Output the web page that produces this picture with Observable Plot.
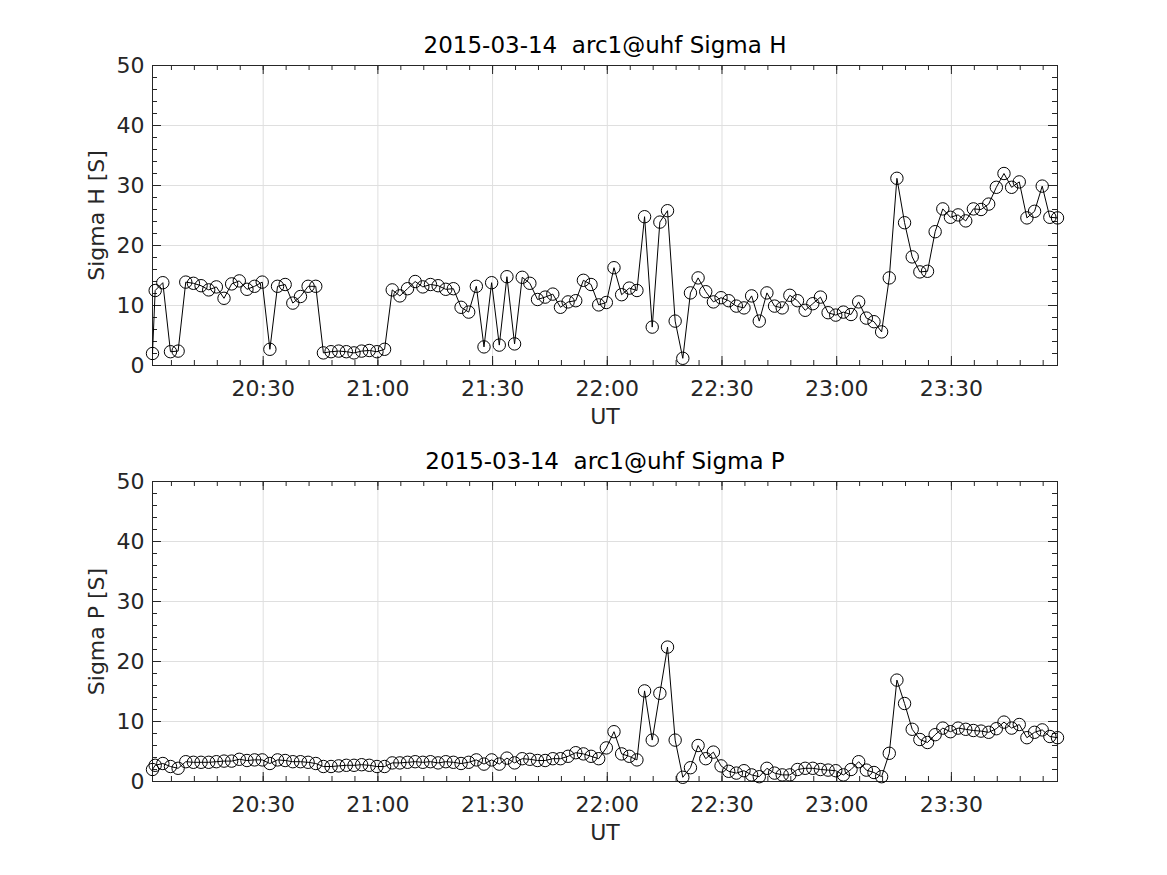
<!DOCTYPE html>
<html>
<head>
<meta charset="utf-8">
<script src="https://cdn.jsdelivr.net/npm/d3@7"></script>
<script src="https://cdn.jsdelivr.net/npm/@observablehq/plot@0.6"></script>
<style>
  html, body { margin: 0; padding: 0; background: white; }
  #wrap { position: relative; width: 1167px; height: 875px; overflow: hidden; background: white; }
  #wrap svg { position: absolute; left: 0; }
</style>
</head>
<body>
<div id="wrap"></div>
<script>
// ---- data ----
const dateStr = "2015-03-14";
const firstTime = "20:01:03";          // first (partial) record
const regularStart = "20:01:45";       // then one record every 2 minutes
const stepMinutes = 2;

const sigmaH = [
  2.0, 12.5, 13.8, 2.3, 2.4, 13.9, 13.7, 13.3, 12.6, 13.1,
  11.2, 13.6, 14.1, 12.7, 13.2, 13.9, 2.7, 13.2, 13.5, 10.4,
  11.5, 13.2, 13.2, 2.1, 2.3, 2.4, 2.3, 2.1, 2.4, 2.5,
  2.3, 2.7, 12.6, 11.6, 12.8, 14.0, 13.1, 13.5, 13.3, 12.7,
  12.8, 9.7, 8.9, 13.2, 3.1, 13.8, 3.4, 14.8, 3.6, 14.7,
  13.7, 11.0, 11.4, 11.9, 9.7, 10.6, 10.8, 14.2, 13.5, 10.1,
  10.5, 16.3, 11.8, 12.9, 12.5, 24.8, 6.4, 23.9, 25.8, 7.4,
  1.2, 12.1, 14.6, 12.3, 10.6, 11.3, 10.8, 9.9, 9.6, 11.6,
  7.4, 12.1, 9.9, 9.6, 11.7, 10.8, 9.2, 10.3, 11.4, 8.8,
  8.4, 8.9, 8.5, 10.6, 7.9, 7.3, 5.6, 14.6, 31.2, 23.8,
  18.1, 15.6, 15.7, 22.3, 26.1, 24.7, 25.1, 24.1, 26.1, 26.0,
  26.9, 29.7, 32.0, 29.7, 30.6, 24.6, 25.7, 29.9, 24.7, 24.6
];

const sigmaP = [
  2.0, 2.7, 3.0, 2.5, 2.2, 3.3, 3.2, 3.2, 3.2, 3.3,
  3.4, 3.4, 3.7, 3.5, 3.6, 3.6, 3.0, 3.6, 3.5, 3.3,
  3.3, 3.2, 3.0, 2.5, 2.5, 2.6, 2.7, 2.7, 2.8, 2.7,
  2.5, 2.5, 3.1, 3.1, 3.2, 3.3, 3.2, 3.3, 3.1, 3.3,
  3.2, 3.0, 3.2, 3.6, 2.9, 3.6, 2.9, 3.9, 3.1, 3.8,
  3.7, 3.5, 3.5, 3.8, 3.8, 4.2, 4.8, 4.6, 4.2, 3.8,
  5.6, 8.3, 4.6, 4.2, 3.6, 15.1, 6.9, 14.7, 22.4, 6.9,
  0.7, 2.3, 6.0, 3.8, 4.9, 2.6, 1.7, 1.4, 1.8, 1.1,
  0.8, 2.2, 1.4, 1.1, 1.1, 2.0, 2.2, 2.2, 2.0, 1.9,
  1.8, 1.1, 2.0, 3.3, 1.9, 1.5, 0.8, 4.7, 16.9, 13.0,
  8.7, 7.0, 6.5, 7.8, 8.9, 8.3, 8.9, 8.7, 8.5, 8.4,
  8.2, 8.8, 9.9, 8.9, 9.5, 7.3, 8.2, 8.6, 7.5, 7.3
];

const xTickLabels = ["20:30", "21:00", "21:30", "22:00", "22:30", "23:00", "23:30"];
const yTicks = [0, 10, 20, 30, 40, 50];
const yMinorTicks = [2, 4, 6, 8, 12, 14, 16, 18, 22, 24, 26, 28, 32, 34, 36, 38, 42, 44, 46, 48];

const panels = [
  { title: "2015-03-14  arc1@uhf Sigma H", ylabel: "Sigma H [S]", values: sigmaH },
  { title: "2015-03-14  arc1@uhf Sigma P", ylabel: "Sigma P [S]", values: sigmaP }
];

// ---- build ----
const parseT = s => new Date(`${dateStr}T${s}Z`);
const t0 = parseT(regularStart);
const times = [parseT(firstTime)].concat(
  sigmaH.slice(1).map((_, k) => new Date(+t0 + k * stepMinutes * 60000))
);
const majorTimes = xTickLabels.map(s => parseT(s + ":00"));
const domainX = [times[0], times[times.length - 1]];
const minorTimes = d3.utcMinute.every(6).range(domainX[0], domainX[1]);

const W = 1167, left = 152, right = 110, frameH = 300, frameW = W - left - right;
const axisColor = "#262626";
const gridColor = "#dfdfdf";
const font = "DejaVu Sans, Liberation Sans, sans-serif";

function panel(p, svgHeight, marginBottom, transparent) {
  const data = times.map((t, i) => ({ t, v: p.values[i] }));
  return Plot.plot({
    width: W,
    height: svgHeight,
    marginLeft: left,
    marginRight: right,
    marginTop: 65,
    marginBottom,
    style: { fontFamily: font, fontSize: "22px", color: axisColor, background: transparent ? "transparent" : "white", overflow: "visible" },
    x: { type: "utc", domain: domainX },
    y: { domain: [0, 50] },
    marks: [
      Plot.gridX(majorTimes, { stroke: gridColor, strokeOpacity: 1, strokeWidth: 1 }),
      Plot.gridY(yTicks, { stroke: gridColor, strokeOpacity: 1, strokeWidth: 1 }),
      // inward ticks: bottom & top (major / minor)
      Plot.tickX(majorTimes, { x: d => d, insetTop: frameH - 9, stroke: axisColor }),
      Plot.tickX(majorTimes, { x: d => d, insetBottom: frameH - 9, stroke: axisColor }),
      Plot.tickX(minorTimes, { x: d => d, insetTop: frameH - 5, stroke: axisColor }),
      Plot.tickX(minorTimes, { x: d => d, insetBottom: frameH - 5, stroke: axisColor }),
      // inward ticks: left & right
      Plot.tickY(yTicks, { y: d => d, insetRight: frameW - 9, stroke: axisColor }),
      Plot.tickY(yTicks, { y: d => d, insetLeft: frameW - 9, stroke: axisColor }),
      Plot.tickY(yMinorTicks, { y: d => d, insetRight: frameW - 5, stroke: axisColor }),
      Plot.tickY(yMinorTicks, { y: d => d, insetLeft: frameW - 5, stroke: axisColor }),
      Plot.frame({ stroke: axisColor, strokeWidth: 1 }),
      Plot.line(data, { x: "t", y: "v", stroke: "black", strokeWidth: 1 }),
      Plot.dot(data, { x: "t", y: "v", r: 6.2, stroke: "black", fill: "none", strokeWidth: 1 }),
      Plot.axisX({ ticks: majorTimes, tickFormat: d3.utcFormat("%H:%M"), tickSize: 0, tickPadding: 15, label: null, fill: axisColor }),
      Plot.axisY({ ticks: yTicks, tickSize: 0, tickPadding: 8, label: null, fill: axisColor }),
      Plot.text([p.title], { frameAnchor: "top", dy: -20, lineAnchor: "middle", fill: "black", fontSize: 23 }),
      Plot.text(["UT"], { frameAnchor: "bottom", dy: 51, lineAnchor: "middle", fill: axisColor, fontSize: 22 }),
      Plot.text([p.ylabel], { frameAnchor: "left", dx: -56, rotate: -90, lineAnchor: "middle", textAnchor: "middle", fill: axisColor, fontSize: 22 })
    ]
  });
}

const wrap = document.getElementById("wrap");
const s1 = panel(panels[0], 437, 72, false);
s1.style.top = "0px";
const s2 = panel(panels[1], 459, 94, true);
s2.style.top = "416px";
wrap.appendChild(s1);
wrap.appendChild(s2);
</script>
</body>
</html>
